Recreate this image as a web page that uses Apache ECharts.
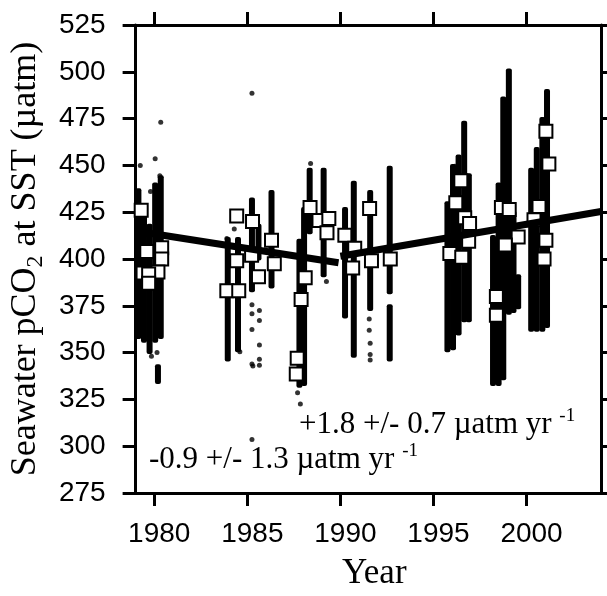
<!DOCTYPE html>
<html>
<head>
<meta charset="utf-8">
<script src="https://cdn.jsdelivr.net/npm/echarts@6/dist/echarts.min.js"></script>
<style>
  html, body { margin: 0; padding: 0; background: #fff; }
  #chart { width: 607px; height: 596px; }
</style>
</head>
<body>
<div id="chart"></div>
<script>
// Year tick positions on the time axis
const yearTicks = [1980, 1985, 1990, 1995, 2000];

// Dense underway pCO2 records, one vertical run per cruise leg: [year, low, high] (µatm)
const cruiseRuns = [
  [1979.15, 358, 437], [1979.45, 356, 425], [1979.75, 350, 418],
  [1980.05, 356, 440], [1980.35, 358, 444], [1980.2, 334, 343],
  [1983.95, 346, 411], [1984.5, 351, 411], [1985.25, 383, 432], [1985.6, 400, 418],
  [1986.3, 385, 436],
  [1987.8, 332, 410], [1988.05, 333, 427], [1988.35, 414, 448],
  [1989.1, 391, 448], [1990.25, 369, 427], [1990.72, 348, 441],
  [1991.6, 373, 436], [1992.65, 382, 449], [1992.65, 346, 375],
  [1995.75, 351, 430], [1996.05, 352, 450], [1996.35, 360, 455],
  [1996.65, 367, 473], [1996.9, 367, 445],
  [1998.2, 333, 412], [1998.5, 333, 440], [1998.75, 336, 486], [1999.05, 371, 501],
  [1999.3, 372, 425], [1999.55, 374, 391],
  [2000.25, 362, 448], [2000.55, 362, 459], [2000.85, 362, 475], [2001.1, 364, 490]
];

// Isolated underway observations: [year, pCO2]
const looseObs = [
  [1979.25, 450], [1980.05, 453.5], [1980.35, 473], [1979.8, 436], [1980.3, 444.5],
  [1979.85, 348], [1980.15, 350],
  [1985.25, 488.5], [1985.25, 375.6], [1985.25, 370.7], [1985.25, 362.4], [1985.25, 343.9],
  [1985.3, 342.8], [1985.65, 372.5], [1985.65, 367.2], [1985.65, 354], [1985.65, 346.5],
  [1985.65, 343.3], [1985.25, 303.6], [1984.3, 416], [1983.9, 411], [1984.6, 350.5],
  [1987.7, 328.5], [1987.85, 322.6], [1989.25, 388], [1990.25, 390], [1988.4, 451],
  [1991.55, 368], [1991.55, 362], [1991.6, 355], [1991.6, 349], [1991.6, 346],
  [1996.15, 449.5]
];

// Cruise means: [year, pCO2]
const cruiseMeans = [
  [1979.3, 426], [1979.6, 404], [1980.4, 406], [1980.4, 400], [1980.2, 393],
  [1979.4, 392.5], [1979.7, 392], [1979.7, 387],
  [1984.43, 423], [1985.28, 420], [1986.3, 410], [1984.43, 399], [1986.45, 397.5],
  [1985.6, 390.5], [1983.9, 383], [1984.54, 383], [1985.23, 402],
  [1988.37, 427.5], [1988.85, 420.6], [1989.38, 421.7], [1989.28, 414], [1990.24, 412.7],
  [1990.77, 405.8], [1990.66, 395.2], [1991.57, 427], [1991.67, 399], [1992.68, 400],
  [1988.11, 390], [1987.89, 378.3], [1987.68, 347], [1987.63, 338.6],
  [1996.47, 441.8], [1996.2, 430], [1996.68, 422], [1996.94, 419], [1996.89, 409.5],
  [1995.88, 403], [1996.52, 401],
  [1998.65, 427.5], [1999.07, 426.5], [1999.55, 411.7], [1998.86, 407.5],
  [1998.38, 380], [1998.38, 370],
  [2000.4, 421], [2000.67, 428], [2001.04, 468.3], [2001.2, 450.8], [2001.04, 410], [2000.94, 400]
];

// Linear trends before and after 1990
const trendEarly = [[1979, 415], [1989.9, 398]];
const trendLate = [[1990, 401.5], [2004, 425.4]];

// Trend annotations
const rateLate = '+1.8 +/- 0.7 µatm yr ';
const rateEarly = '-0.9 +/- 1.3 µatm yr ';
const rateUnitExp = '-1';

const SANS = '"Liberation Sans", Arial, Helvetica, sans-serif';
const SERIF = '"Liberation Serif", "Times New Roman", Times, serif';
const INK = '#000';

const chart = echarts.init(document.getElementById('chart'), null, { renderer: 'canvas' });

const tickStyle = { show: true, inside: false, length: 13, lineStyle: { color: INK, width: 3 } };
const lineStyle = { show: true, lineStyle: { color: INK, width: 3 } };

function runItem(params, api) {
  const top = api.coord([api.value(0), api.value(2)]);
  const bot = api.coord([api.value(0), api.value(1)]);
  return {
    type: 'rect',
    shape: { x: top[0] - 3, y: top[1] - 1.5, width: 6, height: bot[1] - top[1] + 3, r: 2 },
    style: { fill: INK }
  };
}

const richNote = {
  a: { fontFamily: SERIF, fontSize: 31, fill: INK, color: INK, lineHeight: 36 },
  e: { fontFamily: SERIF, fontSize: 19, fill: INK, color: INK, verticalAlign: 'top', lineHeight: 36 }
};

const option = {
  backgroundColor: '#fff',
  animation: false,
  grid: { left: 131, right: 6, top: 25, bottom: 99, containLabel: false },
  xAxis: [
    {
      type: 'value', position: 'bottom', min: 1979, max: 2004,
      axisLine: lineStyle,
      axisTick: Object.assign({ customValues: yearTicks }, tickStyle),
      axisLabel: {
        customValues: yearTicks, color: INK, fontFamily: SANS, fontSize: 28,
        margin: 27, padding: [0, 0, 0, 10],
        formatter: v => String(v)
      },
      splitLine: { show: false },
      name: 'Year', nameLocation: 'middle', nameGap: 63,
      nameTextStyle: { color: INK, fontFamily: SERIF, fontSize: 35, padding: [0, 0, 0, 12] }
    },
    {
      type: 'value', position: 'top', min: 1979, max: 2004,
      axisLine: lineStyle,
      axisTick: Object.assign({ customValues: yearTicks }, tickStyle),
      axisLabel: { show: false },
      splitLine: { show: false }
    }
  ],
  yAxis: [
    {
      type: 'value', position: 'left', min: 275, max: 525, interval: 25,
      axisLine: lineStyle,
      axisTick: tickStyle,
      axisLabel: { color: INK, fontFamily: SANS, fontSize: 28, margin: 30 },
      splitLine: { show: false },
      name: '{t|Seawater pCO}{s|2}{t| at SST (µatm)}',
      nameLocation: 'middle', nameGap: 82,
      nameTextStyle: {
        color: INK,
        rich: {
          t: { fontFamily: SERIF, fontSize: 36, color: INK, lineHeight: 44 },
          s: { fontFamily: SERIF, fontSize: 24, color: INK, verticalAlign: 'bottom', lineHeight: 44 }
        }
      }
    },
    {
      type: 'value', position: 'right', min: 275, max: 525, interval: 25,
      axisLine: lineStyle,
      axisTick: tickStyle,
      axisLabel: { show: false },
      splitLine: { show: false }
    }
  ],
  series: [
    {
      name: 'underway runs', type: 'custom', renderItem: runItem,
      encode: { x: 0, y: [1, 2] }, data: cruiseRuns, z: 2
    },
    {
      name: 'underway points', type: 'scatter', data: looseObs,
      symbol: 'circle', symbolSize: 5, itemStyle: { color: INK }, z: 3
    },
    {
      name: 'cruise means', type: 'scatter', data: cruiseMeans,
      symbol: 'rect', symbolSize: 13,
      itemStyle: { color: '#fff', borderColor: INK, borderWidth: 2, opacity: 1 }, z: 4
    },
    {
      name: 'trend pre-1990', type: 'line', data: trendEarly, showSymbol: false,
      lineStyle: { color: INK, width: 7 }, z: 5
    },
    {
      name: 'trend post-1990', type: 'line', data: trendLate, showSymbol: false,
      lineStyle: { color: INK, width: 7 }, z: 5
    }
  ],
  graphic: [
    {
      type: 'text', left: 299, top: 407, z: 10,
      style: { text: '{a|' + rateLate + '}{e|' + rateUnitExp + '}', rich: richNote }
    },
    {
      type: 'text', left: 149, top: 442, z: 10,
      style: { text: '{a|' + rateEarly + '}{e|' + rateUnitExp + '}', rich: richNote }
    }
  ]
};

chart.setOption(option);
</script>
</body>
</html>
